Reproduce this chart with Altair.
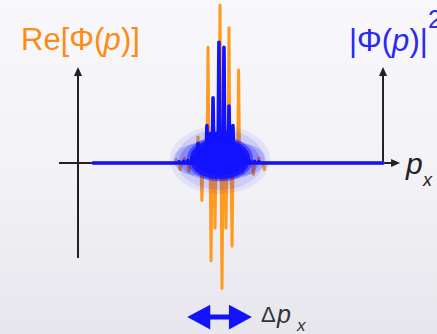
import altair as alt
import pandas as pd

# Re[Phi(p)]: extrema of the oscillating real part (momentum p, amplitude)
re_peak_p = [-1.95, -1.75, -1.55, -1.35, -1.15, -0.94, -0.76, -0.48, -0.34, -0.16,
             0.07, 0.16, 0.34, 0.48, 0.62, 0.92, 1.1, 1.35, 1.6, 1.85, 2.1]
re_peak_v = [0.02, -0.04, 0.03, -0.05, 0.07, 0.16, -0.23, 0.71, -0.60, -0.40,
             0.97, -0.77, -0.40, 0.83, -0.51, 0.57, -0.06, 0.05, -0.07, 0.03, -0.04]

# |Phi(p)|^2: peaks of the probability density
pd_peak_p = [-1.8, -1.6, -1.4, -1.2, -0.94, -0.76, -0.53, -0.36, -0.25, -0.11,
             0.02, 0.25, 0.37, 0.48, 0.57, 0.66, 0.85, 1.02, 1.25, 1.45, 1.65, 1.85]
pd_peak_v = [0.008, 0.01, 0.015, 0.03, 0.12, 0.08, 0.23, 0.18, 0.40, 0.18,
             0.74, 0.71, 0.18, 0.35, 0.17, 0.23, 0.10, 0.06, 0.03, 0.012, 0.01, 0.008]

# extent of the momentum axis line and the two vertical arrows
p_left_axis = -6.43
p_right_axis = 7.53
p_start = -7.30
p_end = 8.31
curve_start = -5.74

ORANGE = "#ff9a1f"
ORANGE_TXT = "#ff8a14"
BLUE = "#1212ff"
BLUE_TXT = "#2a2af0"
INK = "#222222"

HALF = 0.044  # half width of each spike in p units


def spikes(ps, vs, p0, p1):
    rows = [(p0, 0.0)]
    for p, v in sorted(zip(ps, vs)):
        rows += [(p - HALF, 0.0), (p, v), (p + HALF, 0.0)]
    rows.append((p1, 0.0))
    return pd.DataFrame({"p": [r[0] for r in rows], "v": [r[1] for r in rows],
                         "i": list(range(len(rows)))})


xs = alt.Scale(domain=[-10, 10], nice=False, zero=False)
ys = alt.Scale(domain=[-1.049, 1.0], nice=False, zero=False)
one = pd.DataFrame({"k": [0]})


def X(v):
    return alt.XDatum(v, scale=xs, axis=None)


def Y(v):
    return alt.YDatum(v, scale=ys, axis=None)


def seg(x1, y1, x2, y2, color, w):
    return alt.Chart(one).mark_rule(color=color, strokeWidth=w).encode(
        x=X(x1), y=Y(y1), x2=alt.X2Datum(x2), y2=alt.Y2Datum(y2))


def glyph(path, x, y, size, color, opacity=1.0):
    return alt.Chart(one).mark_point(shape=path, filled=True, size=size, color=color,
                                     opacity=opacity, strokeWidth=0).encode(x=X(x), y=Y(y))


def label(txt, x, y, size, color, italic=False):
    kw = dict(text=txt, align="left", baseline="alphabetic", font="Liberation Sans",
              fontSize=size, color=color)
    if italic:
        kw["fontStyle"] = "italic"
    return alt.Chart(one).mark_text(**kw).encode(x=alt.value(x), y=alt.value(y))


UP = "M0,0L0.45,1L-0.45,1Z"
RIGHT = "M0,0L-1,-0.45L-1,0.45Z"
HEAD_L = "M0,0L1,-0.54L1,0.54Z"
HEAD_R = "M0,0L-1,-0.54L-1,0.54Z"
ELL = "M-1,0A1,0.68,0,1,1,1,0A1,0.68,0,1,1,-1,0Z"

bg = alt.Chart(one).mark_rect(
    color=alt.Gradient(gradient="linear",
                       stops=[alt.GradientStop(color="#f8f8fc", offset=0),
                              alt.GradientStop(color="#f1f1f6", offset=0.55),
                              alt.GradientStop(color="#e6e6ec", offset=1)],
                       x1=0, x2=0, y1=0, y2=1)
).encode(x=alt.value(0), x2=alt.value(437), y=alt.value(0), y2=alt.value(334))

axes = [
    seg(p_start, 0, p_end - 0.4, 0, INK, 2),
    seg(p_left_axis, -0.583, p_left_axis, 0.54, INK, 2),
    seg(p_right_axis, 0, p_right_axis, 0.54, INK, 2),
    glyph(UP, p_left_axis, 0.589, 324, INK),
    glyph(UP, p_right_axis, 0.589, 324, INK),
    glyph(RIGHT, p_end, 0, 324, INK),
]

re_line = alt.Chart(spikes(re_peak_p, re_peak_v, curve_start, p_right_axis)).mark_line(
    color=ORANGE, strokeWidth=3, strokeJoin="round", strokeCap="round").encode(
    x=alt.X("p:Q", scale=xs, axis=None), y=alt.Y("v:Q", scale=ys, axis=None),
    order="i:Q")

pd_line = alt.Chart(spikes(pd_peak_p, pd_peak_v, curve_start, p_right_axis)).mark_line(
    color=BLUE, strokeWidth=3.6, strokeJoin="round", strokeCap="round").encode(
    x=alt.X("p:Q", scale=xs, axis=None), y=alt.Y("v:Q", scale=ys, axis=None),
    order="i:Q")

# smeared cloud of fast oscillations around the packet centre
blob = [
    glyph(ELL, 0.07, 0.02, 100 ** 2, BLUE, 0.07),
    glyph(ELL, 0.07, 0.02, 88 ** 2, BLUE, 0.10),
    glyph(ELL, -1.0, 0.02, 46 ** 2, BLUE, 0.18),
    glyph(ELL, 1.1, 0.02, 46 ** 2, BLUE, 0.18),
    glyph(ELL, -0.5, 0.02, 56 ** 2, BLUE, 0.22),
    glyph(ELL, 0.6, 0.02, 56 ** 2, BLUE, 0.22),
    glyph(ELL, 0.07, 0.025, 66 ** 2, BLUE, 0.5),
    glyph(ELL, 0.07, 0.025, 60 ** 2, BLUE, 0.85),
    glyph(ELL, 0.07, 0.03, 52 ** 2, BLUE, 1.0),
]

# momentum spread arrow
spread = [
    seg(-0.9, -0.945, 1.0, -0.945, BLUE, 5),
    glyph(HEAD_L, -1.43, -0.945, 46 ** 2, BLUE),
    glyph(HEAD_R, 1.53, -0.945, 46 ** 2, BLUE),
]

texts = [
    label("Re[Φ(", 21, 50, 31, ORANGE_TXT),
    label("p", 103.5, 50, 31, ORANGE_TXT, True),
    label(")]", 121, 50, 31, ORANGE_TXT),
    label("|Φ(", 349, 51, 31, BLUE_TXT),
    label("p", 392, 51, 31, BLUE_TXT, True),
    label(")|", 409.5, 51, 31, BLUE_TXT),
    label("2", 428, 28, 25, BLUE_TXT),
    label("p", 406, 174, 30, INK, True),
    label("x", 423, 186, 18, INK, True),
    label("Δ", 261, 322, 22, "#333333"),
    label("p", 277, 323, 25, "#333333", True),
    label("x", 297, 331, 17, "#333333", True),
]

chart = alt.layer(bg, *axes, re_line, pd_line, *blob, *spread, *texts).properties(
    width=437, height=334, padding=0, autosize=alt.AutoSizeParams(type="none"),
    background="#f5f5fa"
).configure_view(strokeWidth=0).configure_axis(disable=True)

chart.save("out.html", embed_options={"renderer": "svg", "actions": False})
